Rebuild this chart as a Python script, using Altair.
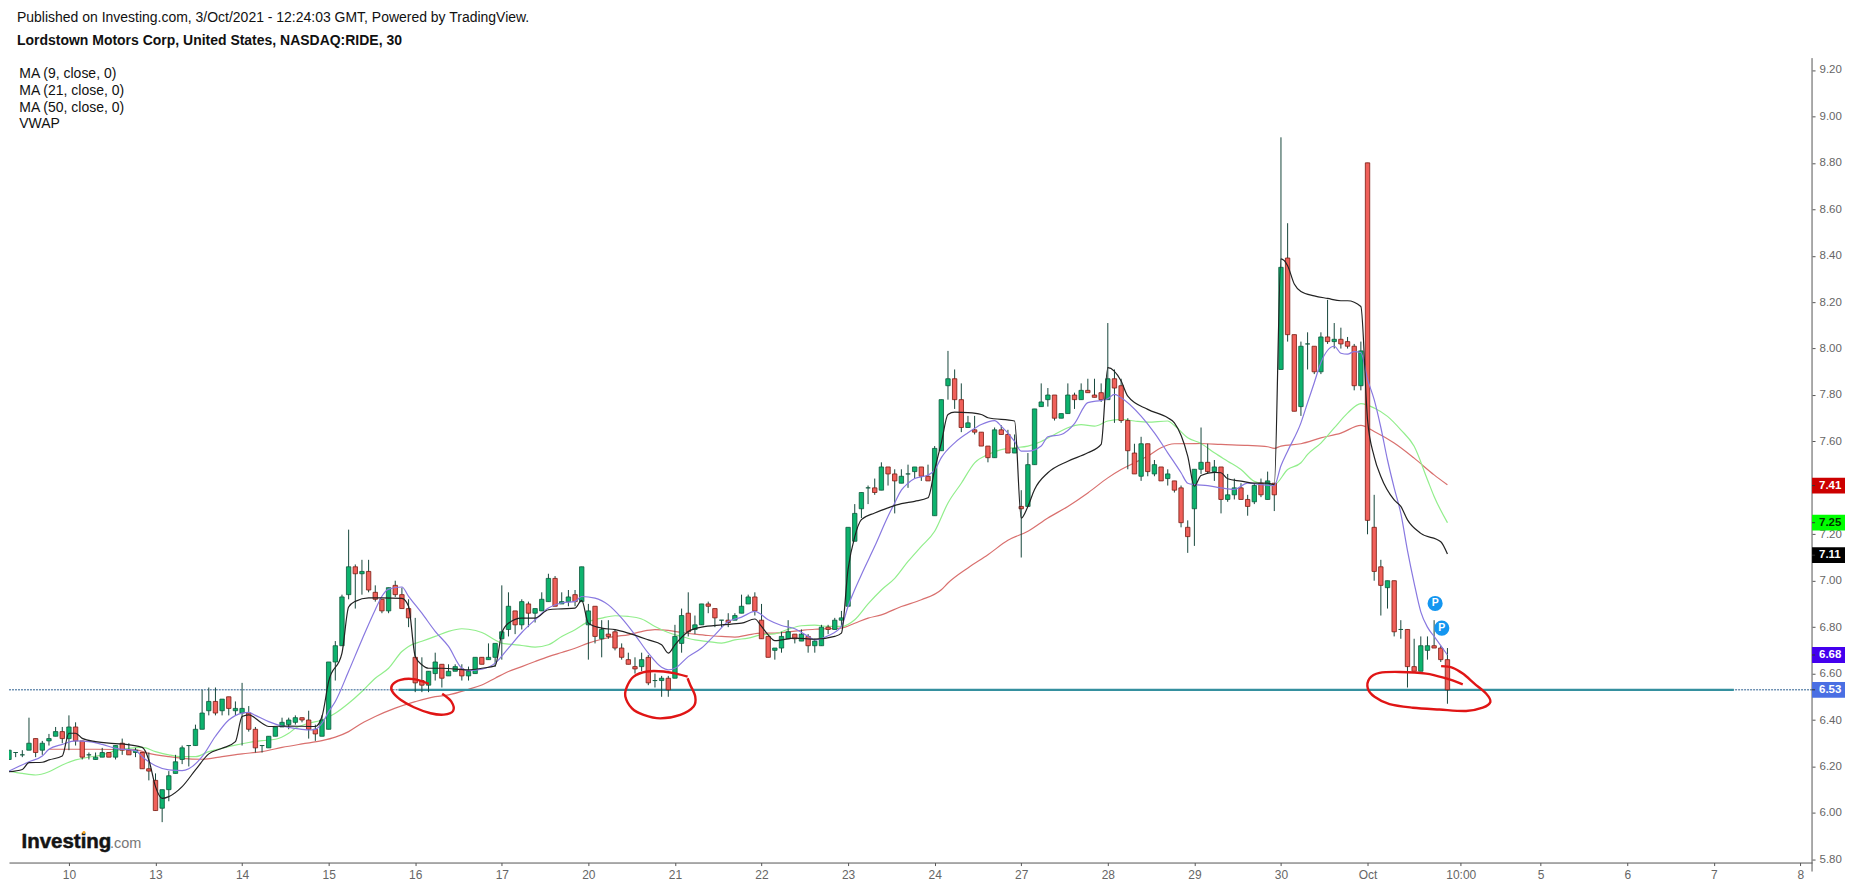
import altair as alt
import pandas as pd

opens = [6.23,6.26,6.25,6.27,6.32,6.27,6.31,6.33,6.35,
 6.32,6.37,6.31,6.25,6.23,6.24,6.26,6.24,6.30,6.27,6.26,6.26,6.19,6.14,6.02,6.10,6.17,6.23,6.29,6.29,
 6.36,6.44,6.48,6.44,6.50,6.44,6.43,6.43,6.36,6.29,6.28,6.33,6.37,6.38,6.39,6.41,6.40,6.36,6.33,6.36,
 6.65,6.72,6.94,7.06,7.03,7.04,6.95,6.92,6.87,6.98,6.94,6.88,6.67,6.57,6.55,6.60,6.64,6.59,6.61,6.62,
 6.59,6.60,6.67,6.66,6.67,6.75,6.79,6.87,6.81,6.90,6.86,6.87,6.91,7.01,6.90,6.91,6.94,6.91,6.81,6.89,
 6.75,6.77,6.78,6.71,6.66,6.63,6.63,6.67,6.57,6.57,6.58,6.58,6.73,6.86,6.79,6.81,6.90,6.88,6.83,6.83,
 6.83,6.86,6.90,6.93,6.83,6.76,6.70,6.71,6.75,6.77,6.74,6.76,6.72,6.72,6.80,6.79,6.83,6.89,7.17,7.31,
 7.40,7.40,7.39,7.49,7.46,7.42,7.46,7.47,7.49,7.45,7.28,7.56,7.84,7.87,7.78,7.66,7.65,7.64,7.58,7.53,
 7.65,7.63,7.55,7.32,7.32,7.50,7.75,7.78,7.80,7.70,7.72,7.80,7.78,7.82,7.80,7.81,7.78,7.87,7.84,7.69,
 7.55,7.45,7.59,7.46,7.49,7.44,7.43,7.40,7.23,7.31,7.48,7.51,7.47,7.49,7.35,7.37,7.40,7.35,7.34,7.42,
 7.35,7.42,7.91,8.39,8.06,7.75,8.02,8.01,7.90,8.05,8.03,8.04,8.03,8.01,7.84,8.80,7.23,7.06,6.97,7.00,
 6.79,6.79,6.63,6.61,6.70,6.72,6.71,6.66]
closes = [6.27,6.26,6.25,6.30,6.26,6.30,6.32,6.35,6.32,
 6.37,6.31,6.24,6.25,6.24,6.26,6.24,6.29,6.27,6.25,6.27,6.19,6.18,6.01,6.10,6.16,6.22,6.28,6.29,6.36,
 6.43,6.48,6.43,6.49,6.45,6.45,6.45,6.36,6.28,6.29,6.33,6.37,6.39,6.40,6.41,6.40,6.36,6.34,6.40,6.65,
 6.72,6.93,7.06,7.03,7.04,6.96,6.92,6.87,6.97,6.94,6.88,6.84,6.56,6.55,6.61,6.65,6.58,6.61,6.63,6.59,
 6.61,6.67,6.64,6.67,6.73,6.78,6.89,6.81,6.91,6.86,6.88,6.92,7.01,6.89,6.91,6.93,6.91,7.06,6.87,6.76,
 6.79,6.76,6.71,6.67,6.64,6.62,6.66,6.56,6.57,6.58,6.53,6.76,6.85,6.78,6.81,6.90,6.89,6.84,6.83,6.82,
 6.85,6.89,6.93,6.87,6.75,6.67,6.71,6.76,6.78,6.75,6.77,6.72,6.74,6.80,6.79,6.83,6.84,7.23,7.29,7.38,
 7.40,7.38,7.49,7.46,7.43,7.45,7.46,7.49,7.45,7.43,7.57,7.78,7.87,7.78,7.66,7.68,7.64,7.58,7.53,7.65,
 7.63,7.55,7.57,7.31,7.50,7.74,7.77,7.80,7.70,7.72,7.80,7.78,7.82,7.81,7.79,7.78,7.87,7.83,7.69,7.56,
 7.46,7.59,7.47,7.50,7.43,7.46,7.39,7.25,7.19,7.48,7.51,7.47,7.49,7.35,7.37,7.40,7.35,7.32,7.41,7.37,
 7.43,7.37,8.35,8.06,7.73,8.01,8.02,7.90,8.05,8.03,8.04,8.02,8.01,7.84,7.99,7.26,7.04,6.98,7.00,6.78,
 6.79,6.63,6.61,6.72,6.72,6.71,6.66,6.53]
highs = [6.27,6.26,6.27,6.41,6.32,6.31,6.34,6.37,6.37,
 6.42,6.39,6.31,6.26,6.26,6.28,6.26,6.29,6.32,6.30,6.28,6.26,6.26,6.17,6.10,6.18,6.25,6.29,6.29,6.38,
 6.53,6.54,6.54,6.49,6.50,6.48,6.56,6.46,6.37,6.29,6.33,6.37,6.41,6.41,6.42,6.41,6.44,6.38,6.42,6.65,
 6.74,6.94,7.22,7.07,7.09,7.09,6.98,6.92,6.97,7.00,6.97,6.92,6.84,6.67,6.61,6.69,6.64,6.64,6.64,6.64,
 6.63,6.67,6.67,6.73,6.73,6.98,6.95,6.87,6.92,6.91,6.88,6.95,7.03,7.02,6.95,6.96,6.96,7.06,6.90,6.89,
 6.83,6.83,6.79,6.73,6.69,6.67,6.69,6.68,6.60,6.59,6.59,6.81,6.88,6.95,6.85,6.90,6.91,6.88,6.83,6.86,
 6.86,6.94,6.94,6.95,6.90,6.76,6.71,6.78,6.83,6.77,6.79,6.77,6.75,6.81,6.81,6.84,6.87,7.23,7.33,7.38,
 7.41,7.44,7.51,7.49,7.48,7.48,7.50,7.49,7.49,7.50,7.58,7.78,7.99,7.91,7.85,7.71,7.71,7.64,7.58,7.66,
 7.67,7.65,7.63,7.39,7.55,7.74,7.85,7.83,7.80,7.72,7.85,7.81,7.85,7.87,7.87,7.85,8.11,7.91,7.87,7.70,
 7.59,7.62,7.59,7.52,7.49,7.48,7.43,7.41,7.26,7.48,7.66,7.59,7.52,7.49,7.46,7.44,7.42,7.37,7.42,7.44,
 7.47,7.42,8.91,8.54,8.06,8.03,8.07,8.01,8.07,8.21,8.11,8.09,8.05,8.02,8.03,8.80,7.37,7.09,7.00,7.00,
 6.83,6.79,6.75,6.76,6.76,6.83,6.72,6.71]
lows = [6.23,6.24,6.24,6.27,6.24,6.25,6.29,6.33,6.30,
 6.27,6.29,6.23,6.23,6.23,6.24,6.24,6.23,6.25,6.25,6.24,6.19,6.14,6.01,5.96,6.05,6.17,6.21,6.20,6.29,
 6.36,6.42,6.42,6.42,6.42,6.42,6.29,6.35,6.26,6.26,6.28,6.33,6.37,6.36,6.38,6.39,6.32,6.31,6.33,6.36,
 6.57,6.72,6.92,6.88,6.94,6.95,6.91,6.86,6.86,6.93,6.88,6.80,6.52,6.52,6.52,6.57,6.54,6.59,6.61,6.57,
 6.57,6.60,6.64,6.66,6.63,6.66,6.76,6.77,6.79,6.80,6.82,6.87,6.91,6.89,6.90,6.89,6.89,6.91,6.66,6.73,
 6.67,6.75,6.70,6.66,6.64,6.60,6.61,6.55,6.54,6.50,6.50,6.58,6.69,6.76,6.77,6.81,6.86,6.80,6.80,6.80,
 6.83,6.86,6.90,6.85,6.75,6.67,6.66,6.69,6.75,6.73,6.74,6.69,6.69,6.72,6.77,6.79,6.80,6.89,7.17,7.27,
 7.33,7.37,7.39,7.41,7.29,7.42,7.40,7.44,7.43,7.43,7.28,7.56,7.78,7.74,7.64,7.66,7.63,7.58,7.51,7.53,
 7.63,7.55,7.55,7.10,7.32,7.50,7.75,7.75,7.69,7.70,7.72,7.74,7.78,7.81,7.79,7.77,7.78,7.68,7.68,7.48,
 7.46,7.43,7.45,7.45,7.43,7.41,7.38,7.23,7.12,7.15,7.46,7.46,7.43,7.29,7.34,7.35,7.35,7.28,7.33,7.36,
 7.35,7.30,7.91,8.03,7.73,7.71,7.91,7.89,7.89,8.02,8.00,8.00,8.00,7.82,7.82,7.20,7.00,6.85,6.88,6.76,
 6.75,6.54,6.61,6.61,6.66,6.71,6.65,6.47]

ma9_i = [-9,-6,-4,-3,-1,1,3,5,7,10,11,12,13,15,17,18,20,22,24,26,27,28,30,32,34,36,37,38,39,40,42,44,46,47,48,50,51,53,55,57,59,60,62,64,66,68,70,72,74,76,77,79,81,83,85,87,89,90,91,93,95,97,99,101,103,105,107,109,111,112,114,116,117,119,121,123,124,125,126,127,129,130,131,133,135,137,139,140,142,143,144,146,147,149,151,153,155,156,157,158,161,163,165,167,168,169,171,173,175,177,179,181,182,183,185,186,187,188,190,191,192,193,194,195,196,197,198,199,200,201,202,203,204,205,206,207]
ma9_v = [6.18,6.22,6.245,6.274,6.295,6.31,6.307,6.295,6.278,6.268,6.242,6.22,6.203,6.185,6.182,6.19,6.242,6.33,6.40,6.43,6.433,6.42,6.393,6.374,6.364,6.357,6.36,6.386,6.436,6.48,6.61,6.746,6.875,6.933,6.964,6.973,6.933,6.86,6.782,6.717,6.623,6.613,6.619,6.645,6.71,6.777,6.832,6.882,6.904,6.911,6.932,6.925,6.896,6.839,6.767,6.688,6.627,6.616,6.623,6.673,6.71,6.767,6.824,6.843,6.868,6.832,6.807,6.793,6.76,6.745,6.763,6.803,6.89,7.026,7.148,7.278,7.335,7.39,7.42,7.44,7.455,7.476,7.53,7.594,7.637,7.673,7.69,7.666,7.60,7.558,7.558,7.58,7.62,7.63,7.677,7.767,7.777,7.784,7.803,7.788,7.709,7.637,7.551,7.465,7.42,7.414,7.41,7.40,7.393,7.42,7.414,7.41,7.495,7.558,7.68,7.767,7.853,7.94,8.01,7.98,7.976,7.987,7.983,7.868,7.78,7.66,7.52,7.40,7.29,7.13,6.99,6.866,6.80,6.76,6.72,6.68]

ma21_i = [-9,-7,-5,-3,-1,1,3,5,7,9,11,13,15,17,19,21,23,25,27,29,31,33,34,36,38,40,42,44,46,48,50,51,53,55,57,59,60,62,64,65,66,68,70,72,74,76,78,80,82,84,86,88,90,92,94,96,98,100,102,104,106,108,110,112,114,116,118,120,122,124,126,128,130,132,134,136,138,140,142,144,146,148,150,152,154,156,158,160,162,165,166,168,170,172,174,176,178,180,181,183,185,186,188,190,192,194,196,198,200,202,204,205,207]
ma21_v = [6.18,6.17,6.163,6.177,6.206,6.228,6.24,6.25,6.268,6.278,6.282,6.264,6.25,6.242,6.242,6.264,6.278,6.292,6.303,6.311,6.317,6.343,6.364,6.386,6.40,6.429,6.472,6.523,6.58,6.623,6.695,6.717,6.739,6.76,6.782,6.793,6.791,6.777,6.745,6.731,6.727,6.721,6.714,6.724,6.76,6.789,6.824,6.839,6.849,6.846,6.835,6.803,6.777,6.76,6.745,6.738,6.731,6.745,6.753,6.767,6.771,6.791,6.806,6.809,6.803,6.803,6.832,6.90,6.96,7.01,7.083,7.148,7.213,7.335,7.42,7.508,7.544,7.565,7.573,7.58,7.60,7.63,7.659,7.672,7.666,7.688,7.695,7.688,7.683,7.688,7.669,7.616,7.591,7.551,7.515,7.479,7.428,7.414,7.414,7.479,7.508,7.544,7.593,7.658,7.722,7.763,7.744,7.708,7.65,7.579,7.435,7.363,7.25]

ma50_i = [-3,0,4,10,12,15,17,20,23,26,29,32,35,38,40,42,44,46,49,52,55,57,60,62,64,66,68,70,72,74,76,78,80,82,84,86,88,90,92,94,96,98,100,102,104,106,108,110,112,114,116,118,120,122,125,128,131,132,135,138,141,144,147,150,153,156,158,160,162,164,166,170,173,177,180,181,182,185,188,191,194,196,199,202,205,207]
ma50_v = [6.274,6.274,6.274,6.271,6.256,6.242,6.235,6.231,6.242,6.254,6.264,6.282,6.297,6.311,6.326,6.35,6.386,6.415,6.451,6.479,6.501,6.508,6.532,6.551,6.58,6.609,6.63,6.652,6.673,6.691,6.709,6.731,6.748,6.76,6.767,6.781,6.789,6.786,6.777,6.77,6.764,6.76,6.757,6.767,6.774,6.774,6.78,6.786,6.791,6.793,6.796,6.817,6.839,6.853,6.889,6.918,6.961,6.99,7.055,7.112,7.174,7.213,7.27,7.32,7.378,7.443,7.479,7.508,7.537,7.573,7.59,7.591,7.587,7.583,7.577,7.57,7.58,7.59,7.615,7.636,7.669,7.643,7.593,7.528,7.456,7.413]

vwap_i = [-9,-7,-6,-4,-3,-1,0,1,2,4,6,8,11,12,13,14,15,17,19,21,23,25,26,27,29,30,33,37,38,39,41,42,43,45,47,50,51,52,53,54,56,60,62,64,65,66,68,70,72,74,76,77,78,80,82,84,87,89,90,91,93,95,98,101,103,104,105,106,109,112,115,116,117,118,119,121,123,125,127,129,130,131,132,133,135,137,138,142,143,144,145,147,150,153,155,156,158,159,162,165,166,168,169,170,172,173,174,176,178,180,181,182,183,184,185,187,189,191,192,194,195,196,197,199,200,201,203,206,207]
vwap_v = [6.177,6.187,6.216,6.218,6.228,6.245,6.343,6.343,6.321,6.307,6.30,6.297,6.282,6.228,6.113,6.062,6.07,6.113,6.185,6.254,6.278,6.307,6.415,6.422,6.386,6.372,6.374,6.372,6.415,6.566,6.688,6.887,6.911,6.926,6.926,6.924,6.89,6.674,6.638,6.623,6.623,6.616,6.623,6.633,6.774,6.817,6.839,6.839,6.875,6.879,6.882,6.915,6.817,6.796,6.789,6.774,6.745,6.724,6.688,6.724,6.781,6.80,6.81,6.817,6.835,6.803,6.767,6.742,6.753,6.748,6.76,6.774,7.05,7.19,7.263,7.292,7.314,7.332,7.342,7.357,7.479,7.594,7.716,7.726,7.724,7.716,7.702,7.688,7.27,7.32,7.393,7.465,7.515,7.551,7.587,7.918,7.86,7.795,7.738,7.702,7.68,7.537,7.407,7.453,7.467,7.465,7.439,7.429,7.42,7.42,7.414,8.386,8.357,8.278,8.246,8.227,8.216,8.206,8.206,8.181,7.694,7.535,7.449,7.348,7.32,7.262,7.204,7.168,7.115]

circle1_i = [54.05,51.8,49.8,48.55,48.55,49.8,51.8,54.3,56.3,57.7,57.4,56.05]
circle1_p = [6.556,6.576,6.573,6.551,6.523,6.487,6.455,6.429,6.423,6.44,6.48,6.513]
circle2_i = [92.9,91.3,89.3,86.8,84.8,83.8,83.55,84.55,86.3,88.8,91.8,93.8,94.05,93.3,92.9]
circle2_p = [6.587,6.599,6.609,6.609,6.587,6.544,6.501,6.45,6.422,6.407,6.422,6.458,6.501,6.551,6.58]
circle3_i = [209.3,206.8,203.8,199.8,196.8,195.3,195.05,196.05,198.3,201.8,205.8,209.8,212.3,213.45,212.8,211.05,209.3,207.8,206.05]
circle3_p = [6.554,6.579,6.60,6.607,6.603,6.579,6.535,6.50,6.468,6.453,6.445,6.439,6.453,6.478,6.514,6.557,6.60,6.625,6.632]

tick_pos = [0,13,26,39,52,65,78,91,104,117,130,143,156,169,182,195,209,221,234,247,260]
tick_lab = ["10","13","14","15","16","17","20","21","22","23","24","27","28","29","30","Oct","10:00","5","6","7","8"]
price_ticks = [5.8,6.0,6.2,6.4,6.6,6.8,7.0,7.2,7.4,7.6,7.8,8.0,8.2,8.4,8.6,8.8,9.0,9.2]

tag_val = [7.41,7.25,7.11,6.68,6.53]
tag_bg = ["#cc0000","#00ff00","#000000","#4400ee","#4a6fe3"]
tag_fg = ["#ffffff","#003300","#ffffff","#ffffff","#ffffff"]

hline_price = 6.53
support_start, support_end = 49.5, 250
p_i = [205.15,206.15]
p_v = [6.902,6.796]

header = [("Published on Investing.com, 3/Oct/2021 - 12:24:03 GMT, Powered by TradingView.", 8, 14, "normal"),
          ("Lordstown Motors Corp, United States, NASDAQ:RIDE, 30", 8, 37, "bold")]
legend = [("MA (9, close, 0)", 70), ("MA (21, close, 0)", 87), ("MA (50, close, 0)", 104), ("VWAP", 120)]

W, H = 1805, 855
xs = alt.Scale(domain=[-9, -9 + W / 6.6667], nice=False, zero=False, padding=0)
ys = alt.Scale(domain=[5.786, 9.465], nice=False, zero=False, padding=0)

n = len(opens)
df = pd.DataFrame({"i": list(range(-9, -9 + n)), "o": opens, "h": highs, "l": lows, "c": closes})
df["up"] = df["c"] >= df["o"]

x_axis = alt.Axis(
    values=tick_pos, title=None, grid=False, orient="bottom",
    labelExpr="%s[indexof(%s, datum.value)]" % (str(tick_lab), str(tick_pos)),
    labelColor="#666666", labelFont="Liberation Sans", labelFontSize=12, tickSize=3,
    tickColor="#555555", domainColor="#555555", labelPadding=4, labelOverlap=False, labelFlush=False)
y_axis = alt.Axis(
    values=price_ticks, title=None, grid=False, orient="right", format=".2f", domain=False,
    labelColor="#666666", labelFont="Liberation Sans", labelFontSize=11.5, tickSize=3,
    tickColor="#555555", labelPadding=4, labelOverlap=False, labelFlush=False)

base_x = alt.X("i:Q", scale=xs, axis=x_axis)
base_y = lambda f: alt.Y(f, scale=ys, axis=y_axis)

def series(idx, vals, color, width=1.2):
    d = pd.DataFrame({"i": idx, "p": vals})
    return alt.Chart(d).mark_line(color=color, strokeWidth=width, interpolate="monotone", clip=True).encode(x=base_x, y=base_y("p:Q"))

axis_line = alt.Chart(pd.DataFrame({"a": [1]})).mark_rule(color="#555555", strokeWidth=1).encode(
    x=alt.value(W), y=alt.value(49.7), y2=alt.value(H + 9))

dash = alt.Chart(pd.DataFrame({"p": [hline_price]})).mark_rule(color="#2a5d8f", strokeWidth=1, strokeDash=[2, 1]).encode(y=base_y("p:Q"))
support = alt.Chart(pd.DataFrame({"i": [support_start], "i2": [support_end], "p": [hline_price]})).mark_rule(
    color="#35909f", strokeWidth=2.4).encode(x=base_x, x2="i2:Q", y=base_y("p:Q"))

wicks = alt.Chart(df).mark_rule(color="#17473c", strokeWidth=1, clip=True).encode(x=base_x, y=base_y("l:Q"), y2="h:Q")
bodies = alt.Chart(df).mark_bar(size=4.4, strokeWidth=0.8, clip=True).encode(
    x=base_x, y=base_y("o:Q"), y2="c:Q",
    fill=alt.condition("datum.up", alt.value("#0db36e"), alt.value("#f0605a")),
    stroke=alt.condition("datum.up", alt.value("#0e5a3e"), alt.value("#7a1c12")),
)

def hand(idx, vals):
    d = pd.DataFrame({"i": idx, "p": vals, "k": range(len(idx))})
    return alt.Chart(d).mark_line(color="#e01515", strokeWidth=2.4, interpolate="cardinal").encode(
        x=base_x, y=base_y("p:Q"), order="k:Q")

tags = pd.DataFrame({"p": tag_val, "bg": tag_bg, "fg": tag_fg,
                     "top": [v + 0.034 for v in tag_val], "bot": [v - 0.034 for v in tag_val],
                     "t": ["%.2f" % v for v in tag_val]})
tag_rect = alt.Chart(tags).mark_rect().encode(
    x=alt.value(W), x2=alt.value(W + 33), y=base_y("top:Q"), y2="bot:Q",
    fill=alt.Fill("bg:N", scale=None))
tag_tick = alt.Chart(tags).mark_rule(color="#333333", strokeWidth=1).encode(
    x=alt.value(W), x2=alt.value(W + 3), y=base_y("p:Q"))
tag_text = alt.Chart(tags).mark_text(align="left", baseline="middle", font="Liberation Sans", fontSize=11.5, fontWeight="bold").encode(
    x=alt.value(W + 7), y=base_y("p:Q"), text="t:N", color=alt.Color("fg:N", scale=None))

pdf = pd.DataFrame({"i": p_i, "p": p_v, "t": ["P", "P"]})
p_dot = alt.Chart(pdf).mark_point(filled=True, shape="circle", size=230, color="#1496f0", opacity=1).encode(x=base_x, y=base_y("p:Q"))
p_txt = alt.Chart(pdf).mark_text(color="#ffffff", font="Liberation Sans", fontWeight="bold", fontSize=10.5, baseline="middle", align="center").encode(
    x=base_x, y=base_y("p:Q"), text="t:N")

def txt(s, x, y, weight="normal", size=14, color="#111111", **kw):
    return alt.Chart(pd.DataFrame({"t": [s]})).mark_text(
        align="left", baseline="alphabetic", font="Liberation Sans", fontSize=size, fontWeight=weight, color=color, **kw
    ).encode(x=alt.value(x), y=alt.value(y), text="t:N")

texts = [txt(s, x, y, w) for s, x, y, w in header]
texts += [txt(s, 10.3, y) for s, y in legend]
texts += [txt("Investing", 12.5, 840.5, "bold", 20.5, "#141414", stroke="#141414", strokeWidth=0.5),
          txt(".com", 101, 840.5, "normal", 14.5, "#777777")]
orange = alt.Chart(pd.DataFrame({"a": [1]})).mark_point(filled=True, size=9, color="#f5a623", opacity=1).encode(x=alt.value(75), y=alt.value(825))

chart = alt.layer(
    series(ma50_i, ma50_v, "#d9706e"), series(ma21_i, ma21_v, "#92ee8c"),
    dash, support, wicks, bodies,
    series(ma9_i, ma9_v, "#8878e0"), series(vwap_i, vwap_v, "#222222"),
    hand(circle1_i, circle1_p), hand(circle2_i, circle2_p), hand(circle3_i, circle3_p),
    axis_line, tag_rect, tag_tick, tag_text, p_dot, p_txt, *texts, orange
).properties(width=W, height=H, padding=0, background="#ffffff").configure_view(stroke=None)

chart.save("out.html", embed_options={"renderer": "svg", "actions": False})
